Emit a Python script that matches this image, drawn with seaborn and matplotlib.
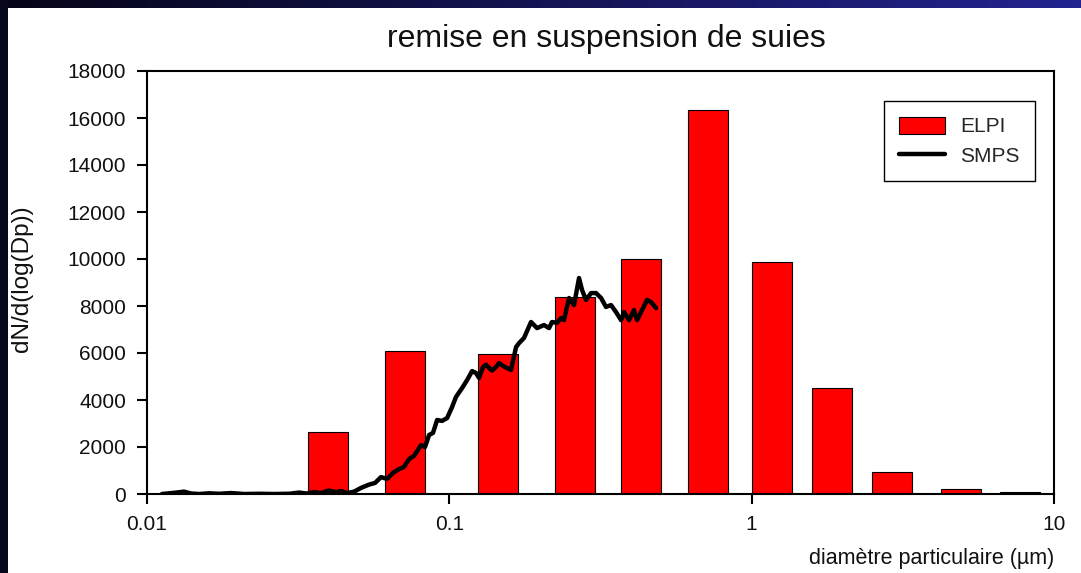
import numpy as np
import matplotlib
matplotlib.use("Agg")
import matplotlib.pyplot as plt
from matplotlib.patches import Patch
from matplotlib.lines import Line2D
import seaborn as sns

# ELPI stages (bar centres, um) and dN/dlogDp
elpi_d = [0.0397, 0.0713, 0.145, 0.26, 0.43, 0.718, 1.17, 1.85, 2.91, 4.93, 7.72]
elpi_dn = [2650, 6100, 5950, 8380, 10000, 16350, 9870, 4510, 940, 200, 80]

# SMPS scan
smps_d = [0.01121, 0.01228, 0.01326, 0.0140, 0.01486, 0.01604, 0.0173, 0.01896,
          0.02094, 0.02347, 0.0263, 0.0295, 0.03183, 0.0338, 0.03568, 0.03763,
          0.0400, 0.0422, 0.04383, 0.04587, 0.0484, 0.05105, 0.05424, 0.0568,
          0.05943, 0.0622, 0.0656, 0.0682, 0.0708, 0.0736, 0.0764, 0.0806,
          0.0831, 0.0857, 0.0883, 0.0911, 0.0946, 0.0983, 0.1021, 0.1052,
          0.1102, 0.1145, 0.1189, 0.1225, 0.1254, 0.1293, 0.1321, 0.1384,
          0.1427, 0.1459, 0.1528, 0.160, 0.1662, 0.170, 0.1766, 0.1863,
          0.195, 0.2056, 0.2137, 0.2186, 0.227, 0.2342, 0.2394, 0.2489,
          0.2585, 0.2685, 0.2748, 0.2832, 0.2943, 0.3057, 0.3176, 0.3298,
          0.3427, 0.356, 0.3698, 0.3784, 0.3928, 0.408, 0.4178, 0.434,
          0.4508, 0.4648, 0.483]
smps_dn = [0, 50, 100, 20, 0, 30, 10, 40,
           0, 10, 0, 10, 60, 20, 80, 40,
           150, 80, 130, 40, 100, 260, 400, 470,
           720, 640, 930, 1060, 1150, 1490, 1620, 2080,
           2000, 2510, 2600, 3150, 3110, 3230, 3700, 4130,
           4510, 4850, 5230, 5150, 4940, 5400, 5500, 5250,
           5400, 5570, 5400, 5280, 6250, 6420, 6640, 7320,
           7060, 7190, 7060, 7320, 7280, 7490, 7400, 8340,
           8040, 9190, 8680, 8260, 8550, 8550, 8340, 7960,
           8040, 7740, 7400, 7740, 7400, 7830, 7400, 7830,
           8260, 8170, 7910]

x_ticks = [0.01, 0.1, 1, 10]
x_ticklabels = ["0.01", "0.1", "1", "10"]
y_ticks = list(range(0, 18001, 2000))

sns.set_style("white")
plt.rcParams['font.family'] = ['Liberation Sans', 'DejaVu Sans']

fig = plt.figure(figsize=(10.81, 5.73), dpi=100, facecolor="white")

## dark slide border (top strip gradient, left strip)
top = fig.add_axes([0, 1 - 8 / 573, 1, 8 / 573])
top.imshow(np.linspace(0, 1, 256).reshape(1, -1), aspect="auto",
           cmap=matplotlib.colors.LinearSegmentedColormap.from_list("band", ["#050518", "#23238f"]),
           extent=[0, 1, 0, 1])
top.set_axis_off()
left = fig.add_axes([0, 0, 8 / 1081, 1])
left.set_facecolor("#06061c")
left.set_xticks([]); left.set_yticks([])
for s in left.spines.values():
    s.set_visible(False)

ax = fig.add_axes([147 / 1081, 1 - 494 / 573, 907 / 1081, 423 / 573])
ax.set_xscale("log")

# bars have a constant width in log space
half = 0.0662
lefts = [d * 10 ** (-half) for d in elpi_d]
widths = [d * 10 ** half - l for d, l in zip(elpi_d, lefts)]
ax.bar(lefts, elpi_dn, width=widths, align="edge", color="#ff0000",
       edgecolor="black", linewidth=0.8, zorder=2)

sns.lineplot(x=smps_d, y=smps_dn, ax=ax, color="black", linewidth=3.2,
             sort=False, estimator=None, legend=False, zorder=3)

ax.set_xlim(0.01, 10)
ax.set_ylim(0, 18000)
ax.set_xticks(x_ticks)
ax.set_xticklabels(x_ticklabels)
ax.xaxis.set_minor_locator(matplotlib.ticker.NullLocator())
ax.set_yticks(y_ticks)
ax.set_yticklabels([str(v) for v in y_ticks])

for s in ax.spines.values():
    s.set_color("black")
    s.set_linewidth(1.5)
ax.tick_params(axis="both", which="major", direction="out", length=7, width=1.5,
               color="black", labelsize=15, labelcolor="#111111", pad=8)
ax.tick_params(axis="y", left=True)
ax.tick_params(axis="x", bottom=True)

ax.set_xlabel("diamètre particulaire (µm)", fontsize=15.5, loc="right", labelpad=10, color="#111111")
ax.set_ylabel("dN/d(log(Dp))", fontsize=17.5, color="#111111")
ax.yaxis.set_label_coords(-0.126, 0.51)

fig.text(606 / 1081, 1 - 39 / 573, "remise en suspension de suies", fontsize=23,
         ha="center", va="center", color="#111111")

handles = [Patch(facecolor="#ff0000", edgecolor="black", linewidth=0.8, label="ELPI"),
           Line2D([0], [0], color="black", linewidth=3.2, label="SMPS")]
leg = ax.legend(handles=handles, loc="upper right", bbox_to_anchor=(0.979, 0.929),
                borderaxespad=0, fancybox=False, framealpha=1, edgecolor="black",
                fontsize=15, handlelength=2.2, handleheight=0.9, borderpad=0.75,
                labelspacing=0.45, handletextpad=0.7)
leg.get_frame().set_linewidth(1.0)

plt.savefig("out.png", dpi=100, facecolor="white")
